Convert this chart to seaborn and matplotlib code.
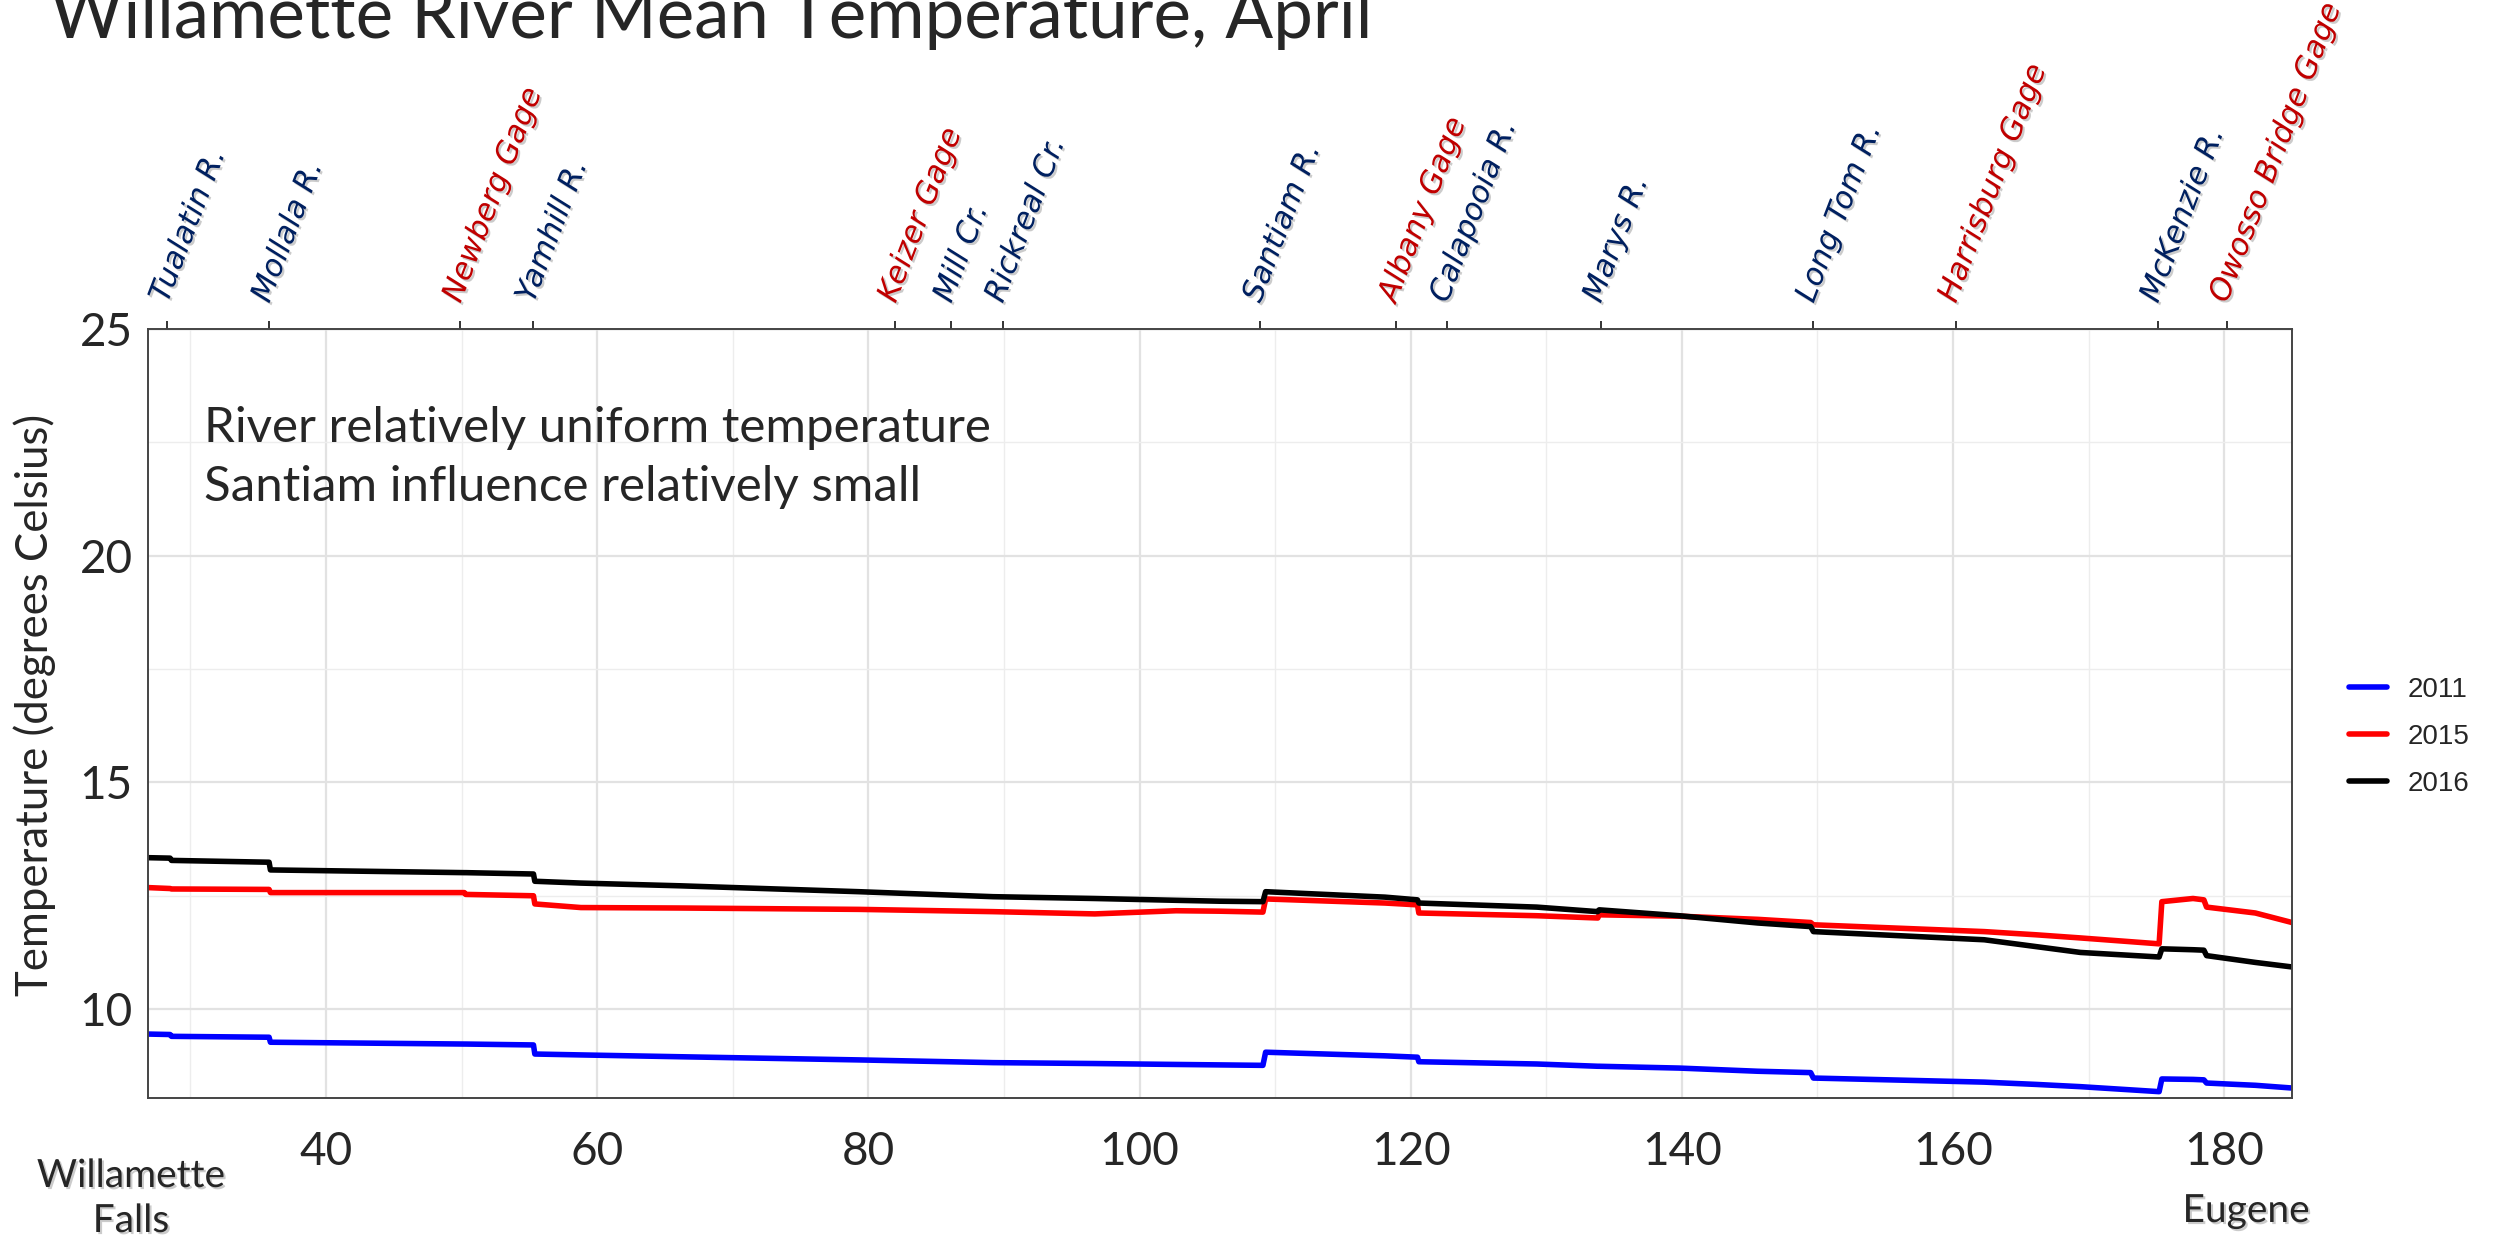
import numpy as np
import pandas as pd
import matplotlib
matplotlib.use("Agg")
import matplotlib.pyplot as plt
import matplotlib.patheffects as pe
from matplotlib.ticker import MultipleLocator
import seaborn as sns

# Willamette River mean April temperature along the river (river mile)
# repeated-ish miles mark the steps at tributary / gage locations
river_mile = [26.9, 28.5, 28.6, 35.8, 35.9, 50.2, 50.3, 55.3, 55.4, 58.8,
              66.1, 79.3, 89.2, 96.7, 102.7, 105.9, 109.1, 109.3, 118.1, 120.5,
              120.6, 129.3, 133.8, 133.9, 139.8, 145.6, 149.5, 149.7, 162.3, 166.1,
              169.4, 175.2, 175.4, 177.7, 178.5, 178.7, 182.3, 185.0]

temp_2011 = [9.45, 9.44, 9.40, 9.38, 9.27, 9.23, 9.23, 9.21, 9.01, 8.99,
             8.95, 8.88, 8.82, 8.80, 8.78, 8.77, 8.76, 9.05, 8.97, 8.94,
             8.84, 8.79, 8.74, 8.74, 8.70, 8.63, 8.60, 8.48, 8.39, 8.34,
             8.29, 8.18, 8.46, 8.45, 8.44, 8.37, 8.32, 8.26]

temp_2015 = [12.68, 12.66, 12.65, 12.64, 12.57, 12.57, 12.53, 12.50, 12.32, 12.24,
             12.23, 12.20, 12.15, 12.10, 12.17, 12.16, 12.14, 12.43, 12.34, 12.30,
             12.12, 12.06, 12.01, 12.08, 12.05, 11.98, 11.91, 11.86, 11.71, 11.64,
             11.57, 11.44, 12.37, 12.44, 12.41, 12.25, 12.12, 11.91]

temp_2016 = [13.34, 13.33, 13.28, 13.24, 13.07, 13.01, 13.01, 12.98, 12.82, 12.78,
             12.72, 12.59, 12.48, 12.44, 12.40, 12.38, 12.37, 12.59, 12.47, 12.41,
             12.34, 12.25, 12.15, 12.19, 12.06, 11.90, 11.82, 11.71, 11.53, 11.38,
             11.25, 11.15, 11.33, 11.31, 11.30, 11.18, 11.03, 10.93]

years = ["2011", "2015", "2016"]
year_colors = ["#0000FF", "#FF0000", "#000000"]

# tributaries and gages along the top axis
trib_rm = [28.3, 35.8, 49.9, 55.3, 82.0, 86.1, 89.9, 108.9, 118.9, 122.7,
           134.0, 149.7, 160.2, 175.1, 180.2]
trib_names = ["Tualatin R.", "Mollala R.", "Newberg Gage", "Yamhill R.", "Keizer Gage",
              "Mill Cr.", "Rickreal Cr.", "Santiam R.", "Albany Gage", "Calapooia R.",
              "Marys R.", "Long Tom R.", "Harrisburg Gage", "McKenzie R.",
              "Owosso Bridge Gage"]
trib_is_gage = [False, False, True, False, True, False, False, False, True, False,
                False, False, True, False, True]

n = len(river_mile)
df = pd.DataFrame({
    "river_mile": river_mile * 3,
    "temp": temp_2011 + temp_2015 + temp_2016,
    "year": [y for y in years for _ in range(n)],
})

sns.set_style("white")
plt.rcParams["font.family"] = ["Lato", "DejaVu Sans"]

W, H = 2499, 1240
fig = plt.figure(figsize=(W / 100, H / 100), dpi=100)
# plot panel in pixels: left 148, right 2292, top 329, bottom 1098
ax = fig.add_axes([148 / W, 1 - 1098 / H, (2292 - 148) / W, (1098 - 329) / H])

sns.lineplot(data=df, x="river_mile", y="temp", hue="year",
             palette=dict(zip(years, year_colors)), estimator=None, sort=False,
             linewidth=4, ax=ax)

ax.set_xlim(26.87, 185.0)
ax.set_ylim(8.04, 25)
ax.xaxis.set_major_locator(MultipleLocator(20))
ax.xaxis.set_minor_locator(MultipleLocator(10))
ax.yaxis.set_major_locator(MultipleLocator(5))
ax.yaxis.set_minor_locator(MultipleLocator(2.5))
ax.grid(which="major", color="#E2E2E2", linewidth=1.6)
ax.grid(which="minor", color="#EDEDED", linewidth=1.0)
ax.set_axisbelow(True)
ax.tick_params(which="minor", length=0)
ax.tick_params(axis="x", which="major", length=6, width=1.4, color="#333333",
               pad=18, labelsize=33)
ax.tick_params(axis="y", which="major", length=5, width=1.4, color="#333333",
               pad=6, labelsize=33)
for s in ax.spines.values():
    s.set_color("#444444")
    s.set_linewidth(1.4)
ax.set_xlabel("")
ax.set_ylabel("")

# legend to the right of the panel
handles, labels = ax.get_legend_handles_labels()
leg = ax.legend(handles, labels, loc="center left",
                bbox_to_anchor=(2349 / W, 1 - 737 / H), bbox_transform=fig.transFigure,
                frameon=False, prop={"family": "Liberation Sans", "size": 20},
                handlelength=1.37, handletextpad=0.75, labelspacing=0.76,
                borderpad=0, borderaxespad=0)
for line in leg.get_lines():
    line.set_linewidth(4)

# top axis with tributary names
shadow = [pe.SimplePatchShadow(offset=(1.5, -1.5), shadow_rgbFace="#999999", alpha=0.5),
          pe.Normal()]
sec = ax.secondary_xaxis("top")
sec.set_xticks(trib_rm, labels=trib_names)
sec.tick_params(length=6, width=1.4, color="#333333", pad=12, labelsize=22)
for lab, gage in zip(sec.get_xticklabels(), trib_is_gage):
    lab.set_color("#C00000" if gage else "#002060")
    lab.set_rotation(69)
    lab.set_rotation_mode("anchor")
    lab.set_ha("left")
    lab.set_va("baseline")
    lab.set_fontstyle("italic")
    lab.set_family("DejaVu Sans")
    lab.set_path_effects(shadow)

# texts
fig.text(50 / W, 1 - 38 / H, "Willamette River Mean Temperature, April",
         fontsize=51, ha="left", va="baseline")
fig.text(35 / W, 1 - 705 / H, "Temperature (degrees Celsius)", fontsize=31.5,
         rotation=90, ha="center", va="center")
ax.text((204 - 148) / 2144, (1098 - 442) / 769, "River relatively uniform temperature",
        transform=ax.transAxes, fontsize=35.5, ha="left", va="baseline")
ax.text((204 - 148) / 2144, (1098 - 501) / 769, "Santiam influence relatively small",
        transform=ax.transAxes, fontsize=35.5, ha="left", va="baseline")
fig.text(131 / W, 1 - 1176 / H, "Willamette", fontsize=28, ha="center", va="center",
         path_effects=shadow)
fig.text(131 / W, 1 - 1221 / H, "Falls", fontsize=28, ha="center", va="center",
         path_effects=shadow)
fig.text(2246 / W, 1 - 1211 / H, "Eugene", fontsize=28, ha="center", va="center",
         path_effects=shadow)

fig.savefig("out.png", dpi=100)
